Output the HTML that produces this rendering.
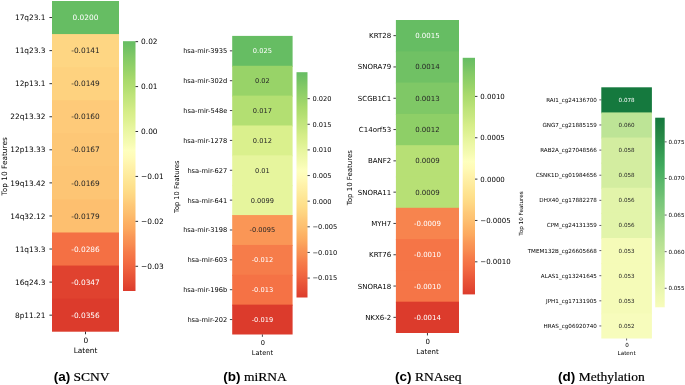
<!DOCTYPE html>
<html><head><meta charset="utf-8"><title>Top 10 Features heatmaps</title>
<style>
html,body{margin:0;padding:0;background:#fff;}
svg{display:block;will-change:transform}
.p text{font-family:"DejaVu Sans","Liberation Sans",sans-serif;}
.cap{font-size:13.50px;fill:#000}
.cb{font-family:"Liberation Sans",sans-serif;font-weight:bold}
.cs{font-family:"Liberation Serif",serif;stroke:#000;stroke-width:0.2px}
</style></head><body>
<svg width="685" height="385" viewBox="0 0 685 385">
<defs><linearGradient id="ga" x1="0" y1="0" x2="0" y2="1"><stop offset="0.0000" stop-color="#66bd63"/><stop offset="0.0312" stop-color="#73c264"/><stop offset="0.0625" stop-color="#82c966"/><stop offset="0.0938" stop-color="#8ecf67"/><stop offset="0.1250" stop-color="#9bd469"/><stop offset="0.1562" stop-color="#a9da6c"/><stop offset="0.1875" stop-color="#b3df72"/><stop offset="0.2188" stop-color="#bfe47a"/><stop offset="0.2500" stop-color="#c9e881"/><stop offset="0.2812" stop-color="#d5ed88"/><stop offset="0.3125" stop-color="#ddf191"/><stop offset="0.3438" stop-color="#e6f59d"/><stop offset="0.3750" stop-color="#eef8a8"/><stop offset="0.4062" stop-color="#f5fbb2"/><stop offset="0.4375" stop-color="#feffbe"/><stop offset="0.4688" stop-color="#fffab6"/><stop offset="0.5000" stop-color="#fff2aa"/><stop offset="0.5312" stop-color="#feec9f"/><stop offset="0.5625" stop-color="#fee593"/><stop offset="0.5938" stop-color="#fede89"/><stop offset="0.6250" stop-color="#fed481"/><stop offset="0.6562" stop-color="#fec877"/><stop offset="0.6875" stop-color="#fdbf6f"/><stop offset="0.7188" stop-color="#fdb365"/><stop offset="0.7500" stop-color="#fca85e"/><stop offset="0.7812" stop-color="#fa9857"/><stop offset="0.8125" stop-color="#f88c51"/><stop offset="0.8438" stop-color="#f67c4a"/><stop offset="0.8750" stop-color="#f47044"/><stop offset="0.9062" stop-color="#ef633f"/><stop offset="0.9375" stop-color="#e95538"/><stop offset="0.9688" stop-color="#e34933"/><stop offset="1.0000" stop-color="#dc3b2c"/></linearGradient><linearGradient id="gb" x1="0" y1="0" x2="0" y2="1"><stop offset="0.0000" stop-color="#66bd63"/><stop offset="0.0312" stop-color="#73c264"/><stop offset="0.0625" stop-color="#82c966"/><stop offset="0.0938" stop-color="#8ecf67"/><stop offset="0.1250" stop-color="#9bd469"/><stop offset="0.1562" stop-color="#a9da6c"/><stop offset="0.1875" stop-color="#b3df72"/><stop offset="0.2188" stop-color="#bfe47a"/><stop offset="0.2500" stop-color="#c9e881"/><stop offset="0.2812" stop-color="#d5ed88"/><stop offset="0.3125" stop-color="#ddf191"/><stop offset="0.3438" stop-color="#e6f59d"/><stop offset="0.3750" stop-color="#eef8a8"/><stop offset="0.4062" stop-color="#f5fbb2"/><stop offset="0.4375" stop-color="#feffbe"/><stop offset="0.4688" stop-color="#fffab6"/><stop offset="0.5000" stop-color="#fff2aa"/><stop offset="0.5312" stop-color="#feec9f"/><stop offset="0.5625" stop-color="#fee593"/><stop offset="0.5938" stop-color="#fede89"/><stop offset="0.6250" stop-color="#fed481"/><stop offset="0.6562" stop-color="#fec877"/><stop offset="0.6875" stop-color="#fdbf6f"/><stop offset="0.7188" stop-color="#fdb365"/><stop offset="0.7500" stop-color="#fca85e"/><stop offset="0.7812" stop-color="#fa9857"/><stop offset="0.8125" stop-color="#f88c51"/><stop offset="0.8438" stop-color="#f67c4a"/><stop offset="0.8750" stop-color="#f47044"/><stop offset="0.9062" stop-color="#ef633f"/><stop offset="0.9375" stop-color="#e95538"/><stop offset="0.9688" stop-color="#e34933"/><stop offset="1.0000" stop-color="#dc3b2c"/></linearGradient><linearGradient id="gc" x1="0" y1="0" x2="0" y2="1"><stop offset="0.0000" stop-color="#66bd63"/><stop offset="0.0312" stop-color="#73c264"/><stop offset="0.0625" stop-color="#82c966"/><stop offset="0.0938" stop-color="#8ecf67"/><stop offset="0.1250" stop-color="#9bd469"/><stop offset="0.1562" stop-color="#a9da6c"/><stop offset="0.1875" stop-color="#b3df72"/><stop offset="0.2188" stop-color="#bfe47a"/><stop offset="0.2500" stop-color="#c9e881"/><stop offset="0.2812" stop-color="#d5ed88"/><stop offset="0.3125" stop-color="#ddf191"/><stop offset="0.3438" stop-color="#e6f59d"/><stop offset="0.3750" stop-color="#eef8a8"/><stop offset="0.4062" stop-color="#f5fbb2"/><stop offset="0.4375" stop-color="#feffbe"/><stop offset="0.4688" stop-color="#fffab6"/><stop offset="0.5000" stop-color="#fff2aa"/><stop offset="0.5312" stop-color="#feec9f"/><stop offset="0.5625" stop-color="#fee593"/><stop offset="0.5938" stop-color="#fede89"/><stop offset="0.6250" stop-color="#fed481"/><stop offset="0.6562" stop-color="#fec877"/><stop offset="0.6875" stop-color="#fdbf6f"/><stop offset="0.7188" stop-color="#fdb365"/><stop offset="0.7500" stop-color="#fca85e"/><stop offset="0.7812" stop-color="#fa9857"/><stop offset="0.8125" stop-color="#f88c51"/><stop offset="0.8438" stop-color="#f67c4a"/><stop offset="0.8750" stop-color="#f47044"/><stop offset="0.9062" stop-color="#ef633f"/><stop offset="0.9375" stop-color="#e95538"/><stop offset="0.9688" stop-color="#e34933"/><stop offset="1.0000" stop-color="#dc3b2c"/></linearGradient><linearGradient id="gd" x1="0" y1="0" x2="0" y2="1"><stop offset="0.0000" stop-color="#15793e"/><stop offset="0.0312" stop-color="#1a7d40"/><stop offset="0.0625" stop-color="#218242"/><stop offset="0.0938" stop-color="#268846"/><stop offset="0.1250" stop-color="#2b8e4a"/><stop offset="0.1562" stop-color="#30954f"/><stop offset="0.1875" stop-color="#359c53"/><stop offset="0.2188" stop-color="#3ba358"/><stop offset="0.2500" stop-color="#3fa95c"/><stop offset="0.2812" stop-color="#49af61"/><stop offset="0.3125" stop-color="#51b365"/><stop offset="0.3438" stop-color="#5cb86b"/><stop offset="0.3750" stop-color="#64bc6f"/><stop offset="0.4062" stop-color="#6dc073"/><stop offset="0.4375" stop-color="#77c679"/><stop offset="0.4688" stop-color="#7fc97c"/><stop offset="0.5000" stop-color="#89ce80"/><stop offset="0.5312" stop-color="#92d183"/><stop offset="0.5625" stop-color="#9cd687"/><stop offset="0.5938" stop-color="#a4d98a"/><stop offset="0.6250" stop-color="#acdd8e"/><stop offset="0.6562" stop-color="#b5e092"/><stop offset="0.6875" stop-color="#bce395"/><stop offset="0.7188" stop-color="#c4e799"/><stop offset="0.7500" stop-color="#cbea9c"/><stop offset="0.7812" stop-color="#d3eda0"/><stop offset="0.8125" stop-color="#daf0a4"/><stop offset="0.8438" stop-color="#dff3a8"/><stop offset="0.8750" stop-color="#e4f4ab"/><stop offset="0.9062" stop-color="#e9f6af"/><stop offset="0.9375" stop-color="#eef9b3"/><stop offset="0.9688" stop-color="#f3fab6"/><stop offset="1.0000" stop-color="#f7fcbc"/></linearGradient></defs>
<rect width="685" height="385" fill="#fff"/>
<g class="p"><rect x="52.00" y="1.00" width="67.00" height="34.07" fill="#66bd63"/>
<rect x="52.00" y="34.07" width="67.00" height="34.07" fill="#fed683"/>
<rect x="52.00" y="67.14" width="67.00" height="34.07" fill="#fed27f"/>
<rect x="52.00" y="100.21" width="67.00" height="34.07" fill="#feca79"/>
<rect x="52.00" y="133.28" width="67.00" height="34.07" fill="#fdc776"/>
<rect x="52.00" y="166.35" width="67.00" height="34.07" fill="#fdc574"/>
<rect x="52.00" y="199.42" width="67.00" height="34.07" fill="#fdbf6f"/>
<rect x="52.00" y="232.49" width="67.00" height="34.07" fill="#f47044"/>
<rect x="52.00" y="265.56" width="67.00" height="34.07" fill="#e0422f"/>
<rect x="52.00" y="298.63" width="67.00" height="33.07" fill="#dc3b2c"/>
<text x="85.50" y="17.54" font-size="7.40" fill="#ffffff" text-anchor="middle" dy="0.36em">0.0200</text>
<line x1="49.41" y1="17.54" x2="52.00" y2="17.54" stroke="#000" stroke-width="0.81"/>
<text x="45.50" y="17.54" font-size="7.40" fill="#000" text-anchor="end" dy="0.36em">17q23.1</text>
<text x="85.50" y="50.61" font-size="7.40" fill="#262626" text-anchor="middle" dy="0.36em">-0.0141</text>
<line x1="49.41" y1="50.61" x2="52.00" y2="50.61" stroke="#000" stroke-width="0.81"/>
<text x="45.50" y="50.61" font-size="7.40" fill="#000" text-anchor="end" dy="0.36em">11q23.3</text>
<text x="85.50" y="83.67" font-size="7.40" fill="#262626" text-anchor="middle" dy="0.36em">-0.0149</text>
<line x1="49.41" y1="83.67" x2="52.00" y2="83.67" stroke="#000" stroke-width="0.81"/>
<text x="45.50" y="83.67" font-size="7.40" fill="#000" text-anchor="end" dy="0.36em">12p13.1</text>
<text x="85.50" y="116.75" font-size="7.40" fill="#262626" text-anchor="middle" dy="0.36em">-0.0160</text>
<line x1="49.41" y1="116.75" x2="52.00" y2="116.75" stroke="#000" stroke-width="0.81"/>
<text x="45.50" y="116.75" font-size="7.40" fill="#000" text-anchor="end" dy="0.36em">22q13.32</text>
<text x="85.50" y="149.81" font-size="7.40" fill="#262626" text-anchor="middle" dy="0.36em">-0.0167</text>
<line x1="49.41" y1="149.81" x2="52.00" y2="149.81" stroke="#000" stroke-width="0.81"/>
<text x="45.50" y="149.81" font-size="7.40" fill="#000" text-anchor="end" dy="0.36em">12p13.33</text>
<text x="85.50" y="182.88" font-size="7.40" fill="#262626" text-anchor="middle" dy="0.36em">-0.0169</text>
<line x1="49.41" y1="182.88" x2="52.00" y2="182.88" stroke="#000" stroke-width="0.81"/>
<text x="45.50" y="182.88" font-size="7.40" fill="#000" text-anchor="end" dy="0.36em">19q13.42</text>
<text x="85.50" y="215.96" font-size="7.40" fill="#262626" text-anchor="middle" dy="0.36em">-0.0179</text>
<line x1="49.41" y1="215.96" x2="52.00" y2="215.96" stroke="#000" stroke-width="0.81"/>
<text x="45.50" y="215.96" font-size="7.40" fill="#000" text-anchor="end" dy="0.36em">14q32.12</text>
<text x="85.50" y="249.03" font-size="7.40" fill="#ffffff" text-anchor="middle" dy="0.36em">-0.0286</text>
<line x1="49.41" y1="249.03" x2="52.00" y2="249.03" stroke="#000" stroke-width="0.81"/>
<text x="45.50" y="249.03" font-size="7.40" fill="#000" text-anchor="end" dy="0.36em">11q13.3</text>
<text x="85.50" y="282.10" font-size="7.40" fill="#ffffff" text-anchor="middle" dy="0.36em">-0.0347</text>
<line x1="49.41" y1="282.10" x2="52.00" y2="282.10" stroke="#000" stroke-width="0.81"/>
<text x="45.50" y="282.10" font-size="7.40" fill="#000" text-anchor="end" dy="0.36em">16q24.3</text>
<text x="85.50" y="315.17" font-size="7.40" fill="#ffffff" text-anchor="middle" dy="0.36em">-0.0356</text>
<line x1="49.41" y1="315.17" x2="52.00" y2="315.17" stroke="#000" stroke-width="0.81"/>
<text x="45.50" y="315.17" font-size="7.40" fill="#000" text-anchor="end" dy="0.36em">8p11.21</text>
<line x1="85.50" y1="331.70" x2="85.50" y2="334.29" stroke="#000" stroke-width="0.81"/>
<text x="85.90" y="343.30" font-size="7.40" fill="#000" text-anchor="middle">0</text>
<text x="85.50" y="353.23" font-size="7.40" fill="#000" text-anchor="middle">Latent</text>
<text transform="translate(7.00,166.35) rotate(-90)" font-size="7.40" fill="#000" text-anchor="middle">Top 10 Features</text>
<rect x="123.00" y="41.20" width="12.50" height="249.80" fill="url(#ga)"/>
<line x1="135.50" y1="41.65" x2="138.09" y2="41.65" stroke="#000" stroke-width="0.81"/>
<text x="141.10" y="41.65" font-size="7.40" fill="#000" dy="0.36em">0.02</text>
<line x1="135.50" y1="86.58" x2="138.09" y2="86.58" stroke="#000" stroke-width="0.81"/>
<text x="141.10" y="86.58" font-size="7.40" fill="#000" dy="0.36em">0.01</text>
<line x1="135.50" y1="131.51" x2="138.09" y2="131.51" stroke="#000" stroke-width="0.81"/>
<text x="141.10" y="131.51" font-size="7.40" fill="#000" dy="0.36em">0.00</text>
<line x1="135.50" y1="176.43" x2="138.09" y2="176.43" stroke="#000" stroke-width="0.81"/>
<text x="141.10" y="176.43" font-size="7.40" fill="#000" dy="0.36em">−0.01</text>
<line x1="135.50" y1="221.36" x2="138.09" y2="221.36" stroke="#000" stroke-width="0.81"/>
<text x="141.10" y="221.36" font-size="7.40" fill="#000" dy="0.36em">−0.02</text>
<line x1="135.50" y1="266.29" x2="138.09" y2="266.29" stroke="#000" stroke-width="0.81"/>
<text x="141.10" y="266.29" font-size="7.40" fill="#000" dy="0.36em">−0.03</text></g>
<text x="81.60" y="380.60" text-anchor="middle" class="cap"><tspan class="cb">(a)</tspan> <tspan class="cs">SCNV</tspan></text>
<g class="p"><rect x="232.20" y="35.90" width="60.40" height="30.86" fill="#66bd63"/>
<rect x="232.20" y="65.76" width="60.40" height="30.86" fill="#98d368"/>
<rect x="232.20" y="95.62" width="60.40" height="30.86" fill="#b3df72"/>
<rect x="232.20" y="125.48" width="60.40" height="30.86" fill="#daf08d"/>
<rect x="232.20" y="155.34" width="60.40" height="30.86" fill="#e6f59d"/>
<rect x="232.20" y="185.20" width="60.40" height="30.86" fill="#e6f59d"/>
<rect x="232.20" y="215.06" width="60.40" height="30.86" fill="#fa9656"/>
<rect x="232.20" y="244.92" width="60.40" height="30.86" fill="#f67c4a"/>
<rect x="232.20" y="274.78" width="60.40" height="30.86" fill="#f57245"/>
<rect x="232.20" y="304.64" width="60.40" height="29.86" fill="#dc3b2c"/>
<text x="262.40" y="50.83" font-size="6.67" fill="#ffffff" text-anchor="middle" dy="0.36em">0.025</text>
<line x1="229.87" y1="50.83" x2="232.20" y2="50.83" stroke="#000" stroke-width="0.73"/>
<text x="227.30" y="50.83" font-size="6.67" fill="#000" text-anchor="end" dy="0.36em">hsa-mir-3935</text>
<text x="262.40" y="80.69" font-size="6.67" fill="#262626" text-anchor="middle" dy="0.36em">0.02</text>
<line x1="229.87" y1="80.69" x2="232.20" y2="80.69" stroke="#000" stroke-width="0.73"/>
<text x="227.30" y="80.69" font-size="6.67" fill="#000" text-anchor="end" dy="0.36em">hsa-mir-302d</text>
<text x="262.40" y="110.55" font-size="6.67" fill="#262626" text-anchor="middle" dy="0.36em">0.017</text>
<line x1="229.87" y1="110.55" x2="232.20" y2="110.55" stroke="#000" stroke-width="0.73"/>
<text x="227.30" y="110.55" font-size="6.67" fill="#000" text-anchor="end" dy="0.36em">hsa-mir-548e</text>
<text x="262.40" y="140.41" font-size="6.67" fill="#262626" text-anchor="middle" dy="0.36em">0.012</text>
<line x1="229.87" y1="140.41" x2="232.20" y2="140.41" stroke="#000" stroke-width="0.73"/>
<text x="227.30" y="140.41" font-size="6.67" fill="#000" text-anchor="end" dy="0.36em">hsa-mir-1278</text>
<text x="262.40" y="170.27" font-size="6.67" fill="#262626" text-anchor="middle" dy="0.36em">0.01</text>
<line x1="229.87" y1="170.27" x2="232.20" y2="170.27" stroke="#000" stroke-width="0.73"/>
<text x="227.30" y="170.27" font-size="6.67" fill="#000" text-anchor="end" dy="0.36em">hsa-mir-627</text>
<text x="262.40" y="200.13" font-size="6.67" fill="#262626" text-anchor="middle" dy="0.36em">0.0099</text>
<line x1="229.87" y1="200.13" x2="232.20" y2="200.13" stroke="#000" stroke-width="0.73"/>
<text x="227.30" y="200.13" font-size="6.67" fill="#000" text-anchor="end" dy="0.36em">hsa-mir-641</text>
<text x="262.40" y="229.99" font-size="6.67" fill="#262626" text-anchor="middle" dy="0.36em">-0.0095</text>
<line x1="229.87" y1="229.99" x2="232.20" y2="229.99" stroke="#000" stroke-width="0.73"/>
<text x="227.30" y="229.99" font-size="6.67" fill="#000" text-anchor="end" dy="0.36em">hsa-mir-3198</text>
<text x="262.40" y="259.85" font-size="6.67" fill="#ffffff" text-anchor="middle" dy="0.36em">-0.012</text>
<line x1="229.87" y1="259.85" x2="232.20" y2="259.85" stroke="#000" stroke-width="0.73"/>
<text x="227.30" y="259.85" font-size="6.67" fill="#000" text-anchor="end" dy="0.36em">hsa-mir-603</text>
<text x="262.40" y="289.71" font-size="6.67" fill="#ffffff" text-anchor="middle" dy="0.36em">-0.013</text>
<line x1="229.87" y1="289.71" x2="232.20" y2="289.71" stroke="#000" stroke-width="0.73"/>
<text x="227.30" y="289.71" font-size="6.67" fill="#000" text-anchor="end" dy="0.36em">hsa-mir-196b</text>
<text x="262.40" y="319.57" font-size="6.67" fill="#ffffff" text-anchor="middle" dy="0.36em">-0.019</text>
<line x1="229.87" y1="319.57" x2="232.20" y2="319.57" stroke="#000" stroke-width="0.73"/>
<text x="227.30" y="319.57" font-size="6.67" fill="#000" text-anchor="end" dy="0.36em">hsa-mir-202</text>
<line x1="262.40" y1="334.50" x2="262.40" y2="336.83" stroke="#000" stroke-width="0.73"/>
<text x="262.80" y="345.04" font-size="6.67" fill="#000" text-anchor="middle">0</text>
<text x="262.40" y="354.81" font-size="6.67" fill="#000" text-anchor="middle">Latent</text>
<text transform="translate(178.50,186.70) rotate(-90)" font-size="6.67" fill="#000" text-anchor="middle">Top 10 Features</text>
<rect x="296.50" y="72.20" width="11.00" height="225.30" fill="url(#gb)"/>
<line x1="307.50" y1="98.65" x2="309.83" y2="98.65" stroke="#000" stroke-width="0.73"/>
<text x="312.50" y="98.65" font-size="6.67" fill="#000" dy="0.36em">0.020</text>
<line x1="307.50" y1="124.28" x2="309.83" y2="124.28" stroke="#000" stroke-width="0.73"/>
<text x="312.50" y="124.28" font-size="6.67" fill="#000" dy="0.36em">0.015</text>
<line x1="307.50" y1="149.91" x2="309.83" y2="149.91" stroke="#000" stroke-width="0.73"/>
<text x="312.50" y="149.91" font-size="6.67" fill="#000" dy="0.36em">0.010</text>
<line x1="307.50" y1="175.55" x2="309.83" y2="175.55" stroke="#000" stroke-width="0.73"/>
<text x="312.50" y="175.55" font-size="6.67" fill="#000" dy="0.36em">0.005</text>
<line x1="307.50" y1="201.18" x2="309.83" y2="201.18" stroke="#000" stroke-width="0.73"/>
<text x="312.50" y="201.18" font-size="6.67" fill="#000" dy="0.36em">0.000</text>
<line x1="307.50" y1="226.81" x2="309.83" y2="226.81" stroke="#000" stroke-width="0.73"/>
<text x="312.50" y="226.81" font-size="6.67" fill="#000" dy="0.36em">−0.005</text>
<line x1="307.50" y1="252.44" x2="309.83" y2="252.44" stroke="#000" stroke-width="0.73"/>
<text x="312.50" y="252.44" font-size="6.67" fill="#000" dy="0.36em">−0.010</text>
<line x1="307.50" y1="278.07" x2="309.83" y2="278.07" stroke="#000" stroke-width="0.73"/>
<text x="312.50" y="278.07" font-size="6.67" fill="#000" dy="0.36em">−0.015</text></g>
<text x="255.00" y="380.60" text-anchor="middle" class="cap"><tspan class="cb">(b)</tspan> <tspan class="cs">miRNA</tspan></text>
<g class="p"><rect x="395.90" y="20.00" width="63.10" height="32.30" fill="#66bd63"/>
<rect x="395.90" y="51.30" width="63.10" height="32.30" fill="#70c164"/>
<rect x="395.90" y="82.60" width="63.10" height="32.30" fill="#7fc866"/>
<rect x="395.90" y="113.90" width="63.10" height="32.30" fill="#8ecf67"/>
<rect x="395.90" y="145.20" width="63.10" height="32.30" fill="#b7e075"/>
<rect x="395.90" y="176.50" width="63.10" height="32.30" fill="#b7e075"/>
<rect x="395.90" y="207.80" width="63.10" height="32.30" fill="#f7844e"/>
<rect x="395.90" y="239.10" width="63.10" height="32.30" fill="#f57547"/>
<rect x="395.90" y="270.40" width="63.10" height="32.30" fill="#f57547"/>
<rect x="395.90" y="301.70" width="63.10" height="31.30" fill="#dc3b2c"/>
<text x="427.45" y="35.65" font-size="7.00" fill="#ffffff" text-anchor="middle" dy="0.36em">0.0015</text>
<line x1="393.45" y1="35.65" x2="395.90" y2="35.65" stroke="#000" stroke-width="0.77"/>
<text x="391.20" y="35.65" font-size="7.00" fill="#000" text-anchor="end" dy="0.36em">KRT28</text>
<text x="427.45" y="66.95" font-size="7.00" fill="#262626" text-anchor="middle" dy="0.36em">0.0014</text>
<line x1="393.45" y1="66.95" x2="395.90" y2="66.95" stroke="#000" stroke-width="0.77"/>
<text x="391.20" y="66.95" font-size="7.00" fill="#000" text-anchor="end" dy="0.36em">SNORA79</text>
<text x="427.45" y="98.25" font-size="7.00" fill="#262626" text-anchor="middle" dy="0.36em">0.0013</text>
<line x1="393.45" y1="98.25" x2="395.90" y2="98.25" stroke="#000" stroke-width="0.77"/>
<text x="391.20" y="98.25" font-size="7.00" fill="#000" text-anchor="end" dy="0.36em">SCGB1C1</text>
<text x="427.45" y="129.55" font-size="7.00" fill="#262626" text-anchor="middle" dy="0.36em">0.0012</text>
<line x1="393.45" y1="129.55" x2="395.90" y2="129.55" stroke="#000" stroke-width="0.77"/>
<text x="391.20" y="129.55" font-size="7.00" fill="#000" text-anchor="end" dy="0.36em">C14orf53</text>
<text x="427.45" y="160.85" font-size="7.00" fill="#262626" text-anchor="middle" dy="0.36em">0.0009</text>
<line x1="393.45" y1="160.85" x2="395.90" y2="160.85" stroke="#000" stroke-width="0.77"/>
<text x="391.20" y="160.85" font-size="7.00" fill="#000" text-anchor="end" dy="0.36em">BANF2</text>
<text x="427.45" y="192.15" font-size="7.00" fill="#262626" text-anchor="middle" dy="0.36em">0.0009</text>
<line x1="393.45" y1="192.15" x2="395.90" y2="192.15" stroke="#000" stroke-width="0.77"/>
<text x="391.20" y="192.15" font-size="7.00" fill="#000" text-anchor="end" dy="0.36em">SNORA11</text>
<text x="427.45" y="223.45" font-size="7.00" fill="#ffffff" text-anchor="middle" dy="0.36em">-0.0009</text>
<line x1="393.45" y1="223.45" x2="395.90" y2="223.45" stroke="#000" stroke-width="0.77"/>
<text x="391.20" y="223.45" font-size="7.00" fill="#000" text-anchor="end" dy="0.36em">MYH7</text>
<text x="427.45" y="254.75" font-size="7.00" fill="#ffffff" text-anchor="middle" dy="0.36em">-0.0010</text>
<line x1="393.45" y1="254.75" x2="395.90" y2="254.75" stroke="#000" stroke-width="0.77"/>
<text x="391.20" y="254.75" font-size="7.00" fill="#000" text-anchor="end" dy="0.36em">KRT76</text>
<text x="427.45" y="286.05" font-size="7.00" fill="#ffffff" text-anchor="middle" dy="0.36em">-0.0010</text>
<line x1="393.45" y1="286.05" x2="395.90" y2="286.05" stroke="#000" stroke-width="0.77"/>
<text x="391.20" y="286.05" font-size="7.00" fill="#000" text-anchor="end" dy="0.36em">SNORA18</text>
<text x="427.45" y="317.35" font-size="7.00" fill="#ffffff" text-anchor="middle" dy="0.36em">-0.0014</text>
<line x1="393.45" y1="317.35" x2="395.90" y2="317.35" stroke="#000" stroke-width="0.77"/>
<text x="391.20" y="317.35" font-size="7.00" fill="#000" text-anchor="end" dy="0.36em">NKX6-2</text>
<line x1="427.45" y1="333.00" x2="427.45" y2="335.45" stroke="#000" stroke-width="0.77"/>
<text x="427.85" y="344.02" font-size="7.00" fill="#000" text-anchor="middle">0</text>
<text x="427.45" y="353.87" font-size="7.00" fill="#000" text-anchor="middle">Latent</text>
<text transform="translate(352.00,177.70) rotate(-90)" font-size="7.00" fill="#000" text-anchor="middle">Top 10 Features</text>
<rect x="462.70" y="57.80" width="12.30" height="236.60" fill="url(#gc)"/>
<line x1="475.00" y1="96.42" x2="477.45" y2="96.42" stroke="#000" stroke-width="0.77"/>
<text x="480.30" y="96.42" font-size="7.00" fill="#000" dy="0.36em">0.0010</text>
<line x1="475.00" y1="137.77" x2="477.45" y2="137.77" stroke="#000" stroke-width="0.77"/>
<text x="480.30" y="137.77" font-size="7.00" fill="#000" dy="0.36em">0.0005</text>
<line x1="475.00" y1="179.12" x2="477.45" y2="179.12" stroke="#000" stroke-width="0.77"/>
<text x="480.30" y="179.12" font-size="7.00" fill="#000" dy="0.36em">0.0000</text>
<line x1="475.00" y1="220.47" x2="477.45" y2="220.47" stroke="#000" stroke-width="0.77"/>
<text x="480.30" y="220.47" font-size="7.00" fill="#000" dy="0.36em">−0.0005</text>
<line x1="475.00" y1="261.82" x2="477.45" y2="261.82" stroke="#000" stroke-width="0.77"/>
<text x="480.30" y="261.82" font-size="7.00" fill="#000" dy="0.36em">−0.0010</text></g>
<text x="428.30" y="380.60" text-anchor="middle" class="cap"><tspan class="cb">(c)</tspan> <tspan class="cs">RNAseq</tspan></text>
<g class="p"><rect x="601.30" y="87.30" width="50.60" height="26.12" fill="#15793e"/>
<rect x="601.30" y="112.42" width="50.60" height="26.12" fill="#bde496"/>
<rect x="601.30" y="137.54" width="50.60" height="26.12" fill="#d3eda0"/>
<rect x="601.30" y="162.66" width="50.60" height="26.12" fill="#d3eda0"/>
<rect x="601.30" y="187.78" width="50.60" height="26.12" fill="#e2f4aa"/>
<rect x="601.30" y="212.90" width="50.60" height="26.12" fill="#e2f4aa"/>
<rect x="601.30" y="238.02" width="50.60" height="26.12" fill="#f5fbb8"/>
<rect x="601.30" y="263.14" width="50.60" height="26.12" fill="#f5fbb8"/>
<rect x="601.30" y="288.26" width="50.60" height="26.12" fill="#f5fbb8"/>
<rect x="601.30" y="313.38" width="50.60" height="25.12" fill="#f7fcbc"/>
<text x="626.60" y="99.86" font-size="5.62" fill="#ffffff" text-anchor="middle" dy="0.36em">0.078</text>
<line x1="599.33" y1="99.86" x2="601.30" y2="99.86" stroke="#000" stroke-width="0.62"/>
<text x="596.90" y="99.86" font-size="5.62" fill="#000" text-anchor="end" dy="0.36em">RAI1_cg24136700</text>
<text x="626.60" y="124.98" font-size="5.62" fill="#262626" text-anchor="middle" dy="0.36em">0.060</text>
<line x1="599.33" y1="124.98" x2="601.30" y2="124.98" stroke="#000" stroke-width="0.62"/>
<text x="596.90" y="124.98" font-size="5.62" fill="#000" text-anchor="end" dy="0.36em">GNG7_cg21885159</text>
<text x="626.60" y="150.10" font-size="5.62" fill="#262626" text-anchor="middle" dy="0.36em">0.058</text>
<line x1="599.33" y1="150.10" x2="601.30" y2="150.10" stroke="#000" stroke-width="0.62"/>
<text x="596.90" y="150.10" font-size="5.62" fill="#000" text-anchor="end" dy="0.36em">RAB2A_cg27048566</text>
<text x="626.60" y="175.22" font-size="5.62" fill="#262626" text-anchor="middle" dy="0.36em">0.058</text>
<line x1="599.33" y1="175.22" x2="601.30" y2="175.22" stroke="#000" stroke-width="0.62"/>
<text x="596.90" y="175.22" font-size="5.62" fill="#000" text-anchor="end" dy="0.36em">CSNK1D_cg01984656</text>
<text x="626.60" y="200.34" font-size="5.62" fill="#262626" text-anchor="middle" dy="0.36em">0.056</text>
<line x1="599.33" y1="200.34" x2="601.30" y2="200.34" stroke="#000" stroke-width="0.62"/>
<text x="596.90" y="200.34" font-size="5.62" fill="#000" text-anchor="end" dy="0.36em">DHX40_cg17882278</text>
<text x="626.60" y="225.46" font-size="5.62" fill="#262626" text-anchor="middle" dy="0.36em">0.056</text>
<line x1="599.33" y1="225.46" x2="601.30" y2="225.46" stroke="#000" stroke-width="0.62"/>
<text x="596.90" y="225.46" font-size="5.62" fill="#000" text-anchor="end" dy="0.36em">CPM_cg24131359</text>
<text x="626.60" y="250.58" font-size="5.62" fill="#262626" text-anchor="middle" dy="0.36em">0.053</text>
<line x1="599.33" y1="250.58" x2="601.30" y2="250.58" stroke="#000" stroke-width="0.62"/>
<text x="596.90" y="250.58" font-size="5.62" fill="#000" text-anchor="end" dy="0.36em">TMEM132B_cg26605668</text>
<text x="626.60" y="275.70" font-size="5.62" fill="#262626" text-anchor="middle" dy="0.36em">0.053</text>
<line x1="599.33" y1="275.70" x2="601.30" y2="275.70" stroke="#000" stroke-width="0.62"/>
<text x="596.90" y="275.70" font-size="5.62" fill="#000" text-anchor="end" dy="0.36em">ALAS1_cg13241645</text>
<text x="626.60" y="300.82" font-size="5.62" fill="#262626" text-anchor="middle" dy="0.36em">0.053</text>
<line x1="599.33" y1="300.82" x2="601.30" y2="300.82" stroke="#000" stroke-width="0.62"/>
<text x="596.90" y="300.82" font-size="5.62" fill="#000" text-anchor="end" dy="0.36em">JPH1_cg17131905</text>
<text x="626.60" y="325.94" font-size="5.62" fill="#262626" text-anchor="middle" dy="0.36em">0.052</text>
<line x1="599.33" y1="325.94" x2="601.30" y2="325.94" stroke="#000" stroke-width="0.62"/>
<text x="596.90" y="325.94" font-size="5.62" fill="#000" text-anchor="end" dy="0.36em">HRAS_cg06920740</text>
<line x1="626.60" y1="338.50" x2="626.60" y2="340.47" stroke="#000" stroke-width="0.62"/>
<text x="627.00" y="346.61" font-size="5.62" fill="#000" text-anchor="middle">0</text>
<text x="626.60" y="354.85" font-size="5.62" fill="#000" text-anchor="middle">Latent</text>
<text transform="translate(523.30,213.50) rotate(-90)" font-size="5.62" fill="#000" text-anchor="middle">Top 10 Features</text>
<rect x="655.20" y="117.70" width="9.50" height="189.60" fill="url(#gd)"/>
<line x1="664.70" y1="141.86" x2="666.67" y2="141.86" stroke="#000" stroke-width="0.62"/>
<text x="668.40" y="141.86" font-size="5.62" fill="#000" dy="0.36em">0.075</text>
<line x1="664.70" y1="178.46" x2="666.67" y2="178.46" stroke="#000" stroke-width="0.62"/>
<text x="668.40" y="178.46" font-size="5.62" fill="#000" dy="0.36em">0.070</text>
<line x1="664.70" y1="215.06" x2="666.67" y2="215.06" stroke="#000" stroke-width="0.62"/>
<text x="668.40" y="215.06" font-size="5.62" fill="#000" dy="0.36em">0.065</text>
<line x1="664.70" y1="251.66" x2="666.67" y2="251.66" stroke="#000" stroke-width="0.62"/>
<text x="668.40" y="251.66" font-size="5.62" fill="#000" dy="0.36em">0.060</text>
<line x1="664.70" y1="288.27" x2="666.67" y2="288.27" stroke="#000" stroke-width="0.62"/>
<text x="668.40" y="288.27" font-size="5.62" fill="#000" dy="0.36em">0.055</text></g>
<text x="601.40" y="380.60" text-anchor="middle" class="cap"><tspan class="cb">(d)</tspan> <tspan class="cs">Methylation</tspan></text>
</svg>
</body></html>
